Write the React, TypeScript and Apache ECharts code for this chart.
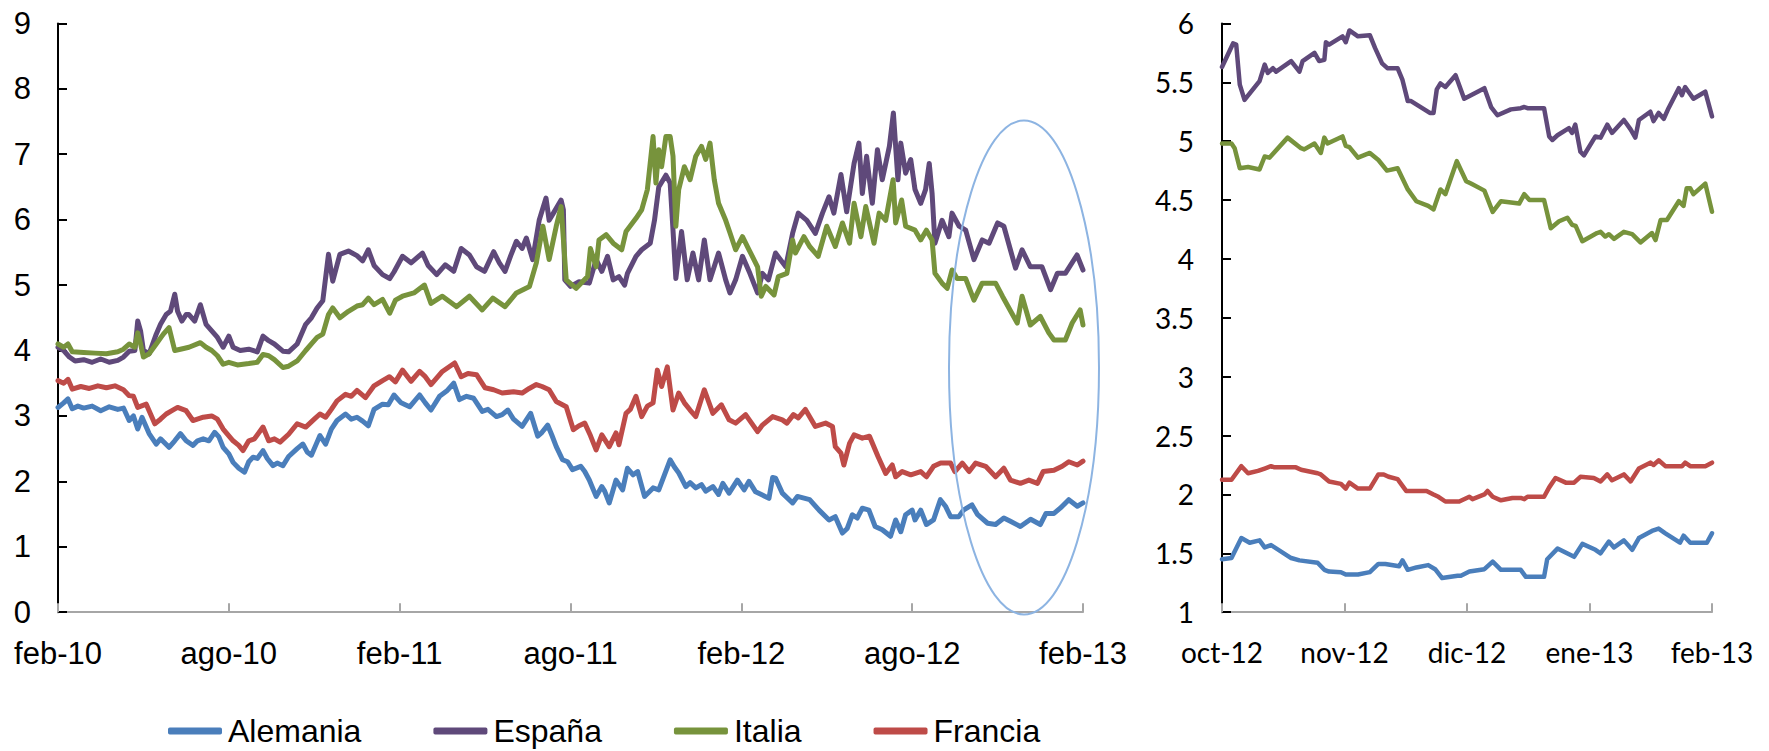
import React, { useEffect, useRef } from "react";
import * as echarts from "echarts";

// ---------- Data ----------
const leftTickLabels = ["feb-10", "ago-10", "feb-11", "ago-11", "feb-12", "ago-12", "feb-13"];
const rightTickLabels = ["oct-12", "nov-12", "dic-12", "ene-13", "feb-13"];
const rightMonthLengths = [31, 30, 31, 31];
const seriesNames = ["Alemania", "España", "Italia", "Francia"];
const seriesColors = ["#4A7EBB", "#5F497A", "#77933C", "#BE4B48"];

// Left panel: [months since feb-10, yield %]
const alemaniaLeft: [number, number][] = [
  [0, 3.13], [0.2, 3.2], [0.35, 3.26], [0.5, 3.11], [0.7, 3.15], [0.9, 3.12], [1.2, 3.15], [1.5, 3.08], [1.8, 3.14], [2.1, 3.1], [2.3, 3.12],
  [2.5, 2.93], [2.65, 3.0], [2.8, 2.8], [2.95, 2.98], [3.2, 2.73], [3.45, 2.57], [3.6, 2.65], [3.9, 2.52], [4.1, 2.62], [4.3, 2.73], [4.5, 2.62],
  [4.74, 2.55], [4.9, 2.62], [5.1, 2.65], [5.3, 2.62], [5.5, 2.75], [5.65, 2.68], [5.8, 2.52], [6.0, 2.42], [6.15, 2.29], [6.35, 2.2], [6.55, 2.14],
  [6.7, 2.3], [6.85, 2.37], [7.0, 2.35], [7.2, 2.47], [7.35, 2.35], [7.55, 2.24], [7.7, 2.28], [7.9, 2.24], [8.1, 2.38], [8.4, 2.5], [8.6, 2.57],
  [8.75, 2.45], [8.9, 2.4], [9.05, 2.55], [9.2, 2.7], [9.4, 2.57], [9.6, 2.8], [9.8, 2.93], [10.1, 3.03], [10.3, 2.95], [10.5, 2.98], [10.7, 2.92],
  [10.9, 2.85], [11.1, 3.1], [11.4, 3.18], [11.6, 3.17], [11.8, 3.32], [12.05, 3.2], [12.35, 3.14], [12.7, 3.32], [12.9, 3.2], [13.1, 3.09],
  [13.4, 3.3], [13.65, 3.38], [13.9, 3.5], [14.1, 3.25], [14.35, 3.3], [14.6, 3.27], [14.9, 3.07], [15.1, 3.1], [15.4, 2.99], [15.6, 3.02],
  [15.8, 3.09], [16.0, 2.95], [16.3, 2.84], [16.6, 3.04], [16.85, 2.69], [17.0, 2.75], [17.2, 2.86], [17.35, 2.7], [17.5, 2.53], [17.72, 2.33],
  [17.9, 2.3], [18.07, 2.18], [18.36, 2.23], [18.5, 2.15], [18.66, 2.02], [18.9, 1.77], [19.1, 1.92], [19.2, 1.85], [19.36, 1.67], [19.6, 2.02],
  [19.83, 1.87], [20.0, 2.2], [20.2, 2.1], [20.36, 2.15], [20.6, 1.77], [20.9, 1.9], [21.1, 1.87], [21.3, 2.1], [21.5, 2.33], [21.65, 2.22],
  [21.8, 2.13], [22.05, 1.92], [22.2, 1.98], [22.4, 1.9], [22.6, 1.95], [22.75, 1.85], [23.0, 1.92], [23.2, 1.8], [23.35, 1.97], [23.57, 1.82],
  [23.86, 2.02], [24.1, 1.87], [24.27, 2.0], [24.5, 1.84], [24.74, 1.79], [24.97, 1.74], [25.1, 2.06], [25.2, 2.05], [25.44, 1.82], [25.8, 1.67],
  [25.97, 1.77], [26.4, 1.72], [26.73, 1.56], [27.08, 1.41], [27.3, 1.46], [27.55, 1.21], [27.72, 1.28], [27.9, 1.49], [28.07, 1.44],
  [28.25, 1.59], [28.48, 1.56], [28.7, 1.31], [28.95, 1.26], [29.24, 1.16], [29.42, 1.41], [29.6, 1.23], [29.77, 1.49], [30.0, 1.56],
  [30.1, 1.41], [30.3, 1.56], [30.5, 1.34], [30.75, 1.41], [30.99, 1.72], [31.17, 1.62], [31.35, 1.46], [31.64, 1.46], [31.8, 1.56], [32.1, 1.64],
  [32.3, 1.49], [32.65, 1.36], [32.93, 1.34], [33.22, 1.44], [33.45, 1.39], [33.8, 1.31], [34.16, 1.42], [34.5, 1.34], [34.7, 1.51],
  [34.98, 1.51], [35.2, 1.59], [35.5, 1.72], [35.8, 1.62], [36.0, 1.67],
];

const espanaLeft: [number, number][] = [
  [0, 4.05], [0.2, 4.0], [0.4, 3.9], [0.6, 3.84], [0.9, 3.86], [1.2, 3.82], [1.5, 3.87], [1.8, 3.82], [2.1, 3.85], [2.3, 3.9], [2.5, 3.99],
  [2.7, 4.0], [2.8, 4.45], [2.9, 4.3], [3.0, 4.0], [3.2, 3.95], [3.45, 4.25], [3.6, 4.4], [3.8, 4.55], [3.95, 4.6], [4.1, 4.86], [4.2, 4.6],
  [4.35, 4.45], [4.5, 4.55], [4.6, 4.55], [4.8, 4.45], [5.0, 4.7], [5.2, 4.4], [5.4, 4.3], [5.6, 4.2], [5.8, 4.05], [6.0, 4.22], [6.15, 4.05],
  [6.4, 4.0], [6.7, 4.02], [7.0, 3.98], [7.2, 4.22], [7.4, 4.15], [7.6, 4.1], [7.9, 3.99], [8.1, 3.98], [8.4, 4.1], [8.7, 4.4], [8.9, 4.5],
  [9.1, 4.65], [9.3, 4.76], [9.5, 5.47], [9.65, 5.06], [9.9, 5.47], [10.2, 5.52], [10.5, 5.45], [10.7, 5.37], [10.9, 5.54], [11.1, 5.3],
  [11.4, 5.16], [11.65, 5.1], [11.8, 5.2], [12.1, 5.44], [12.4, 5.34], [12.8, 5.49], [13.0, 5.3], [13.3, 5.16], [13.6, 5.31], [13.9, 5.21],
  [14.16, 5.56], [14.45, 5.46], [14.7, 5.28], [14.98, 5.21], [15.3, 5.51], [15.5, 5.34], [15.7, 5.21], [15.9, 5.45], [16.1, 5.67], [16.3, 5.56],
  [16.45, 5.72], [16.67, 5.39], [16.9, 5.99], [17.14, 6.33], [17.25, 5.99], [17.4, 6.1], [17.67, 6.3], [17.75, 6.15], [17.8, 5.08], [18.0, 4.98],
  [18.3, 5.05], [18.66, 5.03], [18.9, 5.39], [19.1, 5.21], [19.3, 5.44], [19.5, 5.08], [19.7, 5.13], [19.9, 5.0], [20.0, 5.18], [20.3, 5.44],
  [20.5, 5.54], [20.8, 5.64], [20.95, 5.99], [21.1, 6.5], [21.35, 6.68], [21.5, 6.56], [21.6, 5.84], [21.7, 5.1], [21.9, 5.82], [22.1, 5.08],
  [22.3, 5.49], [22.5, 5.08], [22.7, 5.69], [22.9, 5.08], [23.2, 5.49], [23.45, 5.08], [23.6, 4.88], [23.8, 5.08], [24.04, 5.44], [24.3, 5.18],
  [24.57, 4.88], [24.74, 5.18], [24.95, 5.08], [25.2, 5.49], [25.56, 5.28], [25.8, 5.79], [26.0, 6.1], [26.3, 5.99], [26.6, 5.79], [26.85, 6.1],
  [27.08, 6.35], [27.25, 6.1], [27.5, 6.69], [27.7, 6.12], [27.96, 6.86], [28.13, 7.17], [28.25, 6.4], [28.4, 6.97], [28.6, 6.25], [28.78, 7.07],
  [28.95, 6.61], [29.2, 7.12], [29.34, 7.63], [29.5, 6.61], [29.6, 7.17], [29.77, 6.71], [29.95, 6.92], [30.1, 6.46], [30.3, 6.25], [30.47, 6.46],
  [30.6, 6.86], [30.7, 6.4], [30.8, 5.64], [31.05, 5.99], [31.29, 5.74], [31.4, 6.1], [31.65, 5.9], [31.88, 5.84], [32.17, 5.39], [32.46, 5.69],
  [32.7, 5.64], [33.0, 5.95], [33.22, 5.9], [33.45, 5.54], [33.63, 5.26], [33.86, 5.54], [34.15, 5.28], [34.56, 5.28], [34.86, 4.93], [35.1, 5.18],
  [35.38, 5.18], [35.79, 5.46], [36.0, 5.23],
];

const italiaLeft: [number, number][] = [
  [0, 4.1], [0.2, 4.05], [0.35, 4.1], [0.5, 3.98], [0.9, 3.97], [1.3, 3.96], [1.7, 3.95], [2.1, 3.98], [2.3, 4.02], [2.5, 4.1], [2.7, 4.05],
  [2.8, 4.27], [2.9, 4.1], [3.0, 3.9], [3.2, 3.95], [3.45, 4.1], [3.7, 4.25], [3.9, 4.35], [4.1, 4.0], [4.3, 4.02], [4.6, 4.05], [5.0, 4.12],
  [5.2, 4.05], [5.4, 4.0], [5.6, 3.92], [5.8, 3.79], [6.0, 3.82], [6.3, 3.78], [6.7, 3.8], [7.0, 3.82], [7.2, 3.94], [7.4, 3.92], [7.6, 3.86],
  [7.9, 3.74], [8.1, 3.76], [8.4, 3.84], [8.7, 4.0], [8.9, 4.1], [9.1, 4.2], [9.3, 4.25], [9.5, 4.55], [9.65, 4.65], [9.9, 4.5], [10.2, 4.6],
  [10.5, 4.68], [10.7, 4.7], [10.9, 4.8], [11.1, 4.7], [11.4, 4.78], [11.65, 4.57], [11.85, 4.77], [12.1, 4.83], [12.5, 4.88], [12.87, 5.0],
  [13.1, 4.72], [13.5, 4.83], [14.0, 4.67], [14.45, 4.83], [14.9, 4.62], [15.27, 4.8], [15.7, 4.67], [16.1, 4.88], [16.56, 4.98], [16.8, 5.34],
  [17.03, 5.9], [17.25, 5.39], [17.5, 5.9], [17.67, 6.2], [17.85, 5.08], [18.2, 4.95], [18.6, 5.13], [18.7, 5.56], [18.9, 5.28], [19.0, 5.69],
  [19.25, 5.77], [19.5, 5.64], [19.8, 5.54], [19.95, 5.82], [20.3, 6.02], [20.5, 6.15], [20.7, 6.46], [20.9, 7.27], [21.0, 6.56], [21.1, 7.07],
  [21.2, 6.81], [21.35, 7.27], [21.5, 7.27], [21.6, 6.97], [21.7, 5.9], [21.8, 6.46], [22.0, 6.81], [22.2, 6.61], [22.4, 6.97], [22.6, 7.12],
  [22.75, 6.92], [22.9, 7.17], [23.05, 6.61], [23.2, 6.25], [23.45, 5.99], [23.6, 5.8], [23.8, 5.54], [24.04, 5.74], [24.27, 5.54], [24.57, 5.28],
  [24.7, 4.83], [24.86, 4.98], [25.15, 4.85], [25.3, 5.13], [25.6, 5.18], [25.8, 5.69], [25.9, 5.49], [26.2, 5.74], [26.4, 5.59], [26.7, 5.44],
  [27.0, 5.9], [27.3, 5.59], [27.55, 5.95], [27.8, 5.64], [27.96, 6.25], [28.2, 5.74], [28.37, 6.2], [28.66, 5.64], [28.84, 6.1], [29.07, 5.99],
  [29.33, 6.61], [29.42, 5.95], [29.63, 6.3], [29.77, 5.9], [30.1, 5.84], [30.3, 5.69], [30.5, 5.84], [30.7, 5.69], [30.8, 5.18], [31.05, 5.03],
  [31.23, 4.95], [31.4, 5.23], [31.58, 5.1], [31.88, 5.1], [32.17, 4.77], [32.46, 5.03], [32.93, 5.03], [33.17, 4.83], [33.5, 4.57], [33.69, 4.42],
  [33.86, 4.83], [34.15, 4.39], [34.5, 4.52], [34.8, 4.27], [34.98, 4.16], [35.38, 4.16], [35.62, 4.42], [35.9, 4.62], [36.0, 4.39],
];

const franciaLeft: [number, number][] = [
  [0, 3.54], [0.2, 3.5], [0.35, 3.56], [0.5, 3.41], [0.8, 3.45], [1.1, 3.42], [1.4, 3.46], [1.7, 3.43], [2.0, 3.46], [2.3, 3.4], [2.5, 3.31],
  [2.65, 3.3], [2.8, 3.13], [3.1, 3.18], [3.4, 2.88], [3.6, 2.95], [3.8, 3.03], [4.0, 3.08], [4.2, 3.13], [4.5, 3.08], [4.74, 2.93], [5.1, 2.98],
  [5.4, 3.0], [5.6, 2.95], [5.8, 2.8], [6.15, 2.62], [6.35, 2.55], [6.5, 2.47], [6.7, 2.62], [6.9, 2.65], [7.2, 2.83], [7.4, 2.62], [7.6, 2.65],
  [7.8, 2.6], [8.1, 2.72], [8.4, 2.88], [8.7, 2.83], [9.0, 2.95], [9.2, 3.03], [9.4, 2.98], [9.6, 3.1], [9.8, 3.23], [10.1, 3.33], [10.3, 3.3],
  [10.5, 3.39], [10.8, 3.28], [11.1, 3.46], [11.4, 3.54], [11.64, 3.6], [11.85, 3.52], [12.1, 3.7], [12.4, 3.53], [12.7, 3.68], [12.9, 3.6],
  [13.1, 3.48], [13.5, 3.68], [13.93, 3.81], [14.16, 3.6], [14.4, 3.65], [14.7, 3.63], [15.0, 3.43], [15.3, 3.4], [15.6, 3.35], [16.0, 3.37],
  [16.3, 3.35], [16.55, 3.42], [16.8, 3.48], [17.0, 3.45], [17.25, 3.4], [17.5, 3.22], [17.85, 3.14], [18.1, 2.79], [18.3, 2.85], [18.5, 2.89],
  [18.7, 2.7], [18.9, 2.48], [19.1, 2.71], [19.36, 2.53], [19.6, 2.74], [19.7, 2.56], [19.95, 3.04], [20.1, 3.1], [20.3, 3.3], [20.5, 2.99],
  [20.7, 3.15], [20.9, 3.2], [21.05, 3.7], [21.2, 3.45], [21.4, 3.75], [21.6, 3.09], [21.8, 3.35], [22.0, 3.2], [22.2, 3.09], [22.4, 2.99],
  [22.7, 3.4], [23.0, 3.04], [23.3, 3.17], [23.57, 2.94], [23.8, 2.89], [24.15, 3.02], [24.57, 2.76], [24.74, 2.86], [25.1, 2.99],
  [25.44, 2.94], [25.6, 2.89], [25.83, 3.02], [26.0, 2.97], [26.25, 3.1], [26.6, 2.84], [26.96, 2.89], [27.2, 2.84], [27.3, 2.53],
  [27.5, 2.43], [27.6, 2.25], [27.8, 2.58], [27.96, 2.71], [28.25, 2.66], [28.5, 2.69], [28.8, 2.38], [29.07, 2.12], [29.3, 2.25], [29.42, 2.07],
  [29.65, 2.15], [29.95, 2.1], [30.3, 2.15], [30.5, 2.07], [30.75, 2.23], [31.0, 2.28], [31.35, 2.28], [31.5, 2.15], [31.76, 2.28], [32.0, 2.15],
  [32.23, 2.28], [32.58, 2.23], [32.93, 2.07], [33.22, 2.2], [33.45, 2.02], [33.8, 1.97], [34.1, 2.02], [34.4, 1.97], [34.6, 2.15], [34.98, 2.17],
  [35.27, 2.23], [35.5, 2.3], [35.8, 2.25], [36.0, 2.31],
];

// Right panel: [days since 1 oct 2012, yield %]
const alemaniaRight: [number, number][] = [
  [0, 1.45], [2.4, 1.46], [4.9, 1.63], [7.0, 1.59], [9.5, 1.61], [10.8, 1.55], [12.4, 1.57], [17.5, 1.46], [19.6, 1.44], [24.2, 1.42],
  [25.9, 1.36], [27.1, 1.345], [30.1, 1.34], [31.3, 1.32], [34.3, 1.32], [37.2, 1.34], [39.3, 1.41], [41.0, 1.41], [44.4, 1.39], [45.2, 1.44],
  [46.5, 1.36], [48.6, 1.38], [51.5, 1.4], [53.2, 1.365], [54.9, 1.29], [58.7, 1.31], [59.5, 1.31], [61.6, 1.345], [65.4, 1.365], [67.5, 1.43],
  [69.6, 1.36], [74.6, 1.36], [75.9, 1.3], [80.5, 1.3], [81.3, 1.45], [83.9, 1.54], [88.1, 1.47], [90.2, 1.58], [93.5, 1.53], [94.8, 1.5],
  [96.9, 1.6], [98.2, 1.55], [100.7, 1.61], [102.8, 1.53], [104.5, 1.63], [107.8, 1.69], [109.5, 1.71], [111.2, 1.67], [114.9, 1.59],
  [115.8, 1.65], [117.5, 1.59], [121.7, 1.59], [123, 1.67],
];

const espanaRight: [number, number][] = [
  [0, 5.63], [2.8, 5.83], [3.6, 5.82], [4.5, 5.48], [5.7, 5.35], [9.5, 5.51], [10.8, 5.65], [11.6, 5.58], [12.9, 5.62], [13.7, 5.59],
  [17.5, 5.68], [19.6, 5.59], [20.4, 5.68], [23.4, 5.75], [24.6, 5.68], [25.9, 5.69], [26.3, 5.84], [27.1, 5.82], [30.5, 5.89], [31.3, 5.84],
  [32.2, 5.94], [34.3, 5.89], [37.2, 5.9], [38.5, 5.79], [40.2, 5.66], [41.5, 5.62], [44.0, 5.62], [45.2, 5.52], [46.5, 5.34], [47.3, 5.34],
  [51.9, 5.24], [52.8, 5.24], [53.6, 5.44], [54.5, 5.49], [55.7, 5.46], [58.2, 5.56], [60.3, 5.36], [62.0, 5.39], [65.4, 5.45], [67.1, 5.29],
  [68.7, 5.22], [72.1, 5.27], [74.6, 5.28], [75.5, 5.29], [76.3, 5.28], [80.5, 5.28], [81.8, 5.04], [82.6, 5.01], [83.9, 5.05], [86.8, 5.11],
  [87.6, 5.07], [88.4, 5.14], [89.7, 4.91], [90.6, 4.88], [93.5, 5.04], [94.8, 5.03], [96.5, 5.14], [97.7, 5.07], [100.7, 5.18], [102.4, 5.1],
  [103.6, 5.03], [104.5, 5.18], [107.4, 5.25], [108.2, 5.17], [109.5, 5.24], [110.8, 5.19], [112.0, 5.28], [114.6, 5.45], [115.4, 5.39],
  [116.2, 5.46], [118.3, 5.36], [121.3, 5.42], [123, 5.21],
];

const italiaRight: [number, number][] = [
  [0, 4.98], [2.4, 4.98], [3.2, 4.94], [4.5, 4.77], [6.6, 4.78], [9.5, 4.76], [10.8, 4.87], [12.0, 4.86], [16.6, 5.03], [20.0, 4.94],
  [20.8, 4.93], [23.4, 4.98], [25.0, 4.9], [25.9, 5.03], [26.7, 4.98], [30.5, 5.04], [31.3, 4.96], [32.2, 4.95], [34.3, 4.86], [37.2, 4.9],
  [39.3, 4.84], [41.4, 4.75], [44.0, 4.77], [46.5, 4.59], [48.6, 4.49], [51.5, 4.45], [52.8, 4.42], [54.5, 4.59], [55.7, 4.55], [58.5, 4.83],
  [60.8, 4.66], [62.0, 4.64], [65.4, 4.58], [67.5, 4.4], [69.6, 4.49], [74.2, 4.47], [75.5, 4.55], [76.8, 4.5], [80.5, 4.5], [82.2, 4.26],
  [84.3, 4.32], [86.4, 4.35], [87.6, 4.29], [88.5, 4.28], [90.2, 4.15], [93.9, 4.22], [94.8, 4.23], [96.0, 4.19], [96.9, 4.21], [98.2, 4.17],
  [100.7, 4.23], [102.8, 4.21], [104.9, 4.14], [107.8, 4.22], [108.7, 4.16], [110.0, 4.33], [111.6, 4.33], [114.6, 4.49], [115.8, 4.45],
  [116.6, 4.6], [117.5, 4.6], [118.3, 4.55], [121.3, 4.64], [123, 4.4],
];

const franciaRight: [number, number][] = [
  [0, 2.125], [2.4, 2.125], [4.9, 2.24], [6.6, 2.18], [9.1, 2.2], [10.8, 2.22], [12.4, 2.24], [13.3, 2.23], [18.7, 2.23], [20.0, 2.21],
  [24.2, 2.18], [25.0, 2.17], [27.1, 2.11], [30.1, 2.09], [31.3, 2.05], [32.2, 2.1], [34.3, 2.05], [37.2, 2.05], [39.3, 2.17], [40.6, 2.17],
  [41.8, 2.15], [44.0, 2.13], [46.1, 2.03], [51.1, 2.03], [52.8, 2.0], [54.0, 1.98], [55.7, 1.94], [59.1, 1.94], [61.6, 1.98], [62.4, 1.96],
  [65.4, 2.0], [66.2, 2.03], [67.5, 1.98], [69.6, 1.95], [72.5, 1.97], [74.6, 1.97], [75.5, 1.96], [76.3, 1.98], [80.5, 1.98], [81.8, 2.06],
  [83.4, 2.14], [86.0, 2.1], [88.1, 2.1], [89.7, 2.15], [93.1, 2.14], [94.8, 2.11], [96.5, 2.17], [97.7, 2.12], [100.7, 2.17], [102.4, 2.11],
  [104.5, 2.22], [107.4, 2.27], [108.2, 2.25], [109.5, 2.29], [111.2, 2.24], [115.4, 2.24], [116.2, 2.27], [117.5, 2.24], [121.3, 2.24],
  [123, 2.27],
];

const leftData = [alemaniaLeft, espanaLeft, italiaLeft, franciaLeft];
const rightData = [alemaniaRight, espanaRight, italiaRight, franciaRight];

function dayToMonth(d: number): number {
  let start = 0;
  for (let i = 0; i < rightMonthLengths.length; i++) {
    const len = rightMonthLengths[i];
    if (d <= start + len || i === rightMonthLengths.length - 1) {
      return i + (d - start) / len;
    }
    start += len;
  }
  return rightMonthLengths.length;
}

const LEFT_FONT = "'Liberation Sans', Arial, sans-serif";
const RIGHT_FONT = "Lato, 'Liberation Sans', sans-serif";

export default function App() {
  const ref = useRef<HTMLDivElement>(null);

  useEffect(() => {
    document.body.style.margin = "0";
    if (!ref.current) return;
    const chart = echarts.init(ref.current, null, { renderer: "svg" });

    const yBase = (font: string, size: number, margin: number) => ({
      axisLine: { show: true, lineStyle: { color: "#000", width: 2 } },
      axisTick: { show: true, inside: true, length: 9, lineStyle: { color: "#000", width: 2 } },
      axisLabel: { color: "#000", fontFamily: font, fontSize: size, margin },
      splitLine: { show: false },
    });
    const xBase = {
      axisLine: { show: true, onZero: false, lineStyle: { color: "#A6A6A6", width: 2 } },
      axisTick: { show: true, inside: true, length: 9, lineStyle: { color: "#A6A6A6", width: 2 } },
      splitLine: { show: false },
    };

    const series: any[] = [];
    seriesNames.forEach((name, i) => {
      series.push({
        name,
        type: "line",
        xAxisIndex: 0,
        yAxisIndex: 0,
        data: leftData[i],
        showSymbol: false,
        symbol: "none",
        lineStyle: { color: seriesColors[i], width: 5, join: "round", cap: "round" },
        itemStyle: { color: seriesColors[i] },
      });
    });
    seriesNames.forEach((name, i) => {
      series.push({
        name,
        type: "line",
        xAxisIndex: 1,
        yAxisIndex: 1,
        data: rightData[i].map(([d, v]) => [dayToMonth(d), v]),
        showSymbol: false,
        symbol: "none",
        lineStyle: { color: seriesColors[i], width: 4.5, join: "round", cap: "round" },
        itemStyle: { color: seriesColors[i] },
      });
    });

    chart.setOption({
      animation: false,
      backgroundColor: "#fff",
      grid: [
        { left: 58, top: 23.4, width: 1025, height: 588.8, containLabel: false },
        { left: 1222, top: 23.4, width: 490, height: 588.8, containLabel: false },
      ],
      xAxis: [
        {
          type: "value",
          gridIndex: 0,
          min: 0,
          max: 36,
          interval: 6,
          ...xBase,
          axisLabel: {
            color: "#000",
            fontFamily: LEFT_FONT,
            fontSize: 31,
            margin: 26,
            formatter: (v: number) => leftTickLabels[Math.round(v / 6)] ?? "",
          },
        },
        {
          type: "value",
          gridIndex: 1,
          min: 0,
          max: 4,
          interval: 1,
          ...xBase,
          axisLabel: {
            color: "#000",
            fontFamily: RIGHT_FONT,
            fontSize: 28,
            margin: 26,
            formatter: (v: number) => rightTickLabels[Math.round(v)] ?? "",
          },
        },
      ],
      yAxis: [
        { type: "value", gridIndex: 0, min: 0, max: 9, interval: 1, ...yBase(LEFT_FONT, 31, 27) },
        { type: "value", gridIndex: 1, min: 1, max: 6, interval: 0.5, ...yBase(RIGHT_FONT, 28, 28) },
      ],
      legend: {
        show: true,
        left: 168,
        top: 715,
        padding: 0,
        itemWidth: 54,
        itemHeight: 7,
        itemGap: 72,
        icon: "roundRect",
        data: seriesNames,
        textStyle: { color: "#000", fontFamily: LEFT_FONT, fontSize: 32, padding: [0, 0, 0, 1] },
      },
      graphic: [
        {
          type: "ellipse",
          shape: { cx: 1024, cy: 367.5, rx: 75, ry: 247 },
          style: { fill: "none", stroke: "#8DB4E2", lineWidth: 2 },
          z: 100,
          silent: true,
        },
      ],
      series,
    });

    return () => {
      chart.dispose();
    };
  }, []);

  return <div ref={ref} style={{ width: 1769, height: 751 }} />;
}
